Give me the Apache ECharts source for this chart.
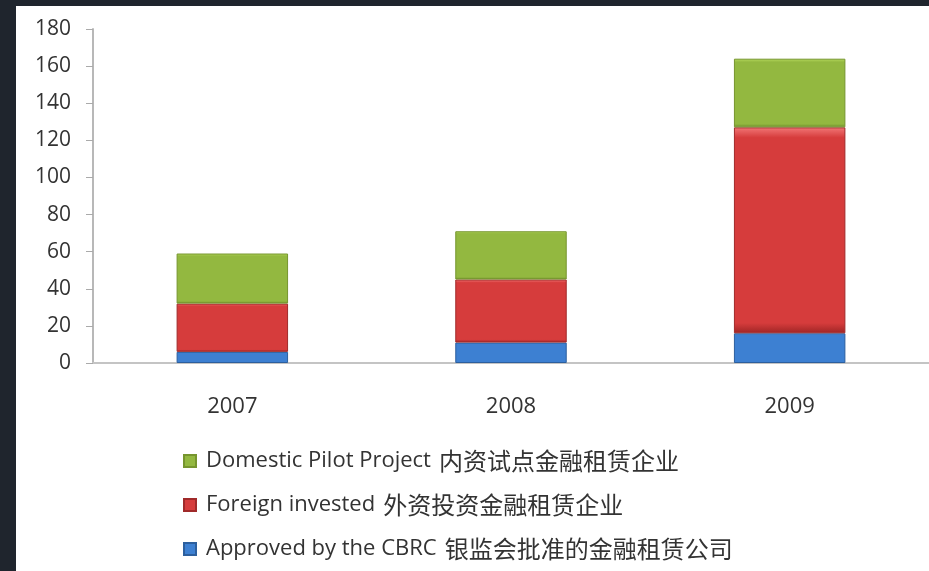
<!DOCTYPE html>
<html>
<head>
<meta charset="utf-8">
<script src="https://cdn.jsdelivr.net/npm/echarts@6/dist/echarts.min.js"></script>
<style>
html,body{margin:0;padding:0;background:#1f252d;width:929px;height:571px;overflow:hidden}
#chart{position:absolute;left:16px;top:6px;width:913px;height:565px;background:#fff}
</style>
</head>
<body>
<div id="chart"></div>
<script>
// 金融租赁企业数量
var years = ['2007', '2008', '2009']
var approved = [6, 11, 16]      // 银监会批准的金融租赁公司
var foreign = [26, 34, 111]     // 外资投资金融租赁企业
var domestic = [27, 26, 37]     // 内资试点金融租赁企业

var nameA = 'Approved by the CBRC|银监会批准的金融租赁公司'
var nameF = 'Foreign invested|外资投资金融租赁企业'
var nameD = 'Domestic Pilot Project|内资试点金融租赁企业'

function grad(light, mid, dark){
    return new echarts.graphic.LinearGradient(0, 0, 0, 1, [
        {offset: 0, color: light},
        {offset: 0.05, color: mid},
        {offset: 0.95, color: mid},
        {offset: 1, color: dark}
    ])
}

var font = '"Open Sans", "Noto Sans CJK SC", sans-serif'
var myChart = echarts.init(document.getElementById('chart'))
myChart.setOption({
    animation: false,
    backgroundColor: '#fff',
    textStyle: {fontFamily: font},
    grid: {left: 77, right: -3, top: 23, bottom: 208},
    legend: {
        orient: 'vertical',
        left: 162,
        top: 438,
        itemWidth: 12,
        itemHeight: 12,
        itemGap: 20,
        icon: 'rect',
        formatter: function(n){
            var p = n.split('|')
            return '{en|' + p[0] + '}{cn|' + p[1] + '}'
        },
        textStyle: {
            color: '#333', fontFamily: font, padding: [0, 0, 0, 5],
            rich: {
                en: {fontSize: 22, color: '#333', fontFamily: font},
                cn: {fontSize: 24, color: '#333', fontFamily: '"Noto Sans CJK SC", sans-serif', padding: [0, 0, 0, 8]}
            }
        },
        data: [nameD, nameF, nameA]
    },
    xAxis: {
        type: 'category',
        data: years,
        axisLine: {lineStyle: {color: '#c4c4c4', width: 2}},
        axisTick: {length: 7, lineStyle: {color: '#aaa'}},
        axisLabel: {color: '#333', fontSize: 22, margin: 33}
    },
    yAxis: {
        type: 'value',
        min: 0,
        max: 180,
        interval: 20,
        splitLine: {show: false},
        axisLine: {show: true, lineStyle: {color: '#b8b8b8', width: 2}},
        axisTick: {show: true, length: 7, lineStyle: {color: '#aaa'}},
        axisLabel: {color: '#333', fontSize: 21, margin: 22}
    },
    series: [
        {
            name: nameA, type: 'bar', stack: 'total', barWidth: '40%',
            itemStyle: {color: grad('#6fb0f0', '#3d80d2', '#245a9e'), borderColor: '#2c5f9e', borderWidth: 1},
            data: approved
        },
        {
            name: nameF, type: 'bar', stack: 'total', barWidth: '40%',
            itemStyle: {color: grad('#f27777', '#d63c3c', '#9e2525'), borderColor: '#a02a2a', borderWidth: 1},
            data: foreign
        },
        {
            name: nameD, type: 'bar', stack: 'total', barWidth: '40%',
            itemStyle: {color: grad('#b8dc5e', '#93b840', '#6b8a2a'), borderColor: '#76952e', borderWidth: 1},
            data: domestic
        }
    ]
}, true)
</script>
</body>
</html>
